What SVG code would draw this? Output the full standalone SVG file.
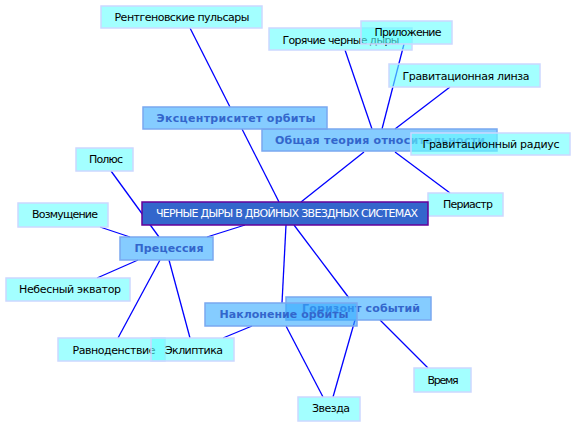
<svg xmlns="http://www.w3.org/2000/svg" width="576" height="427" viewBox="0 0 576 427">
<style>
.lt rect{fill:#66ffff;fill-opacity:0.6;stroke:#ccd8ff;stroke-width:1.5}
.bl rect{fill:#33aaff;fill-opacity:0.6;stroke:#7aa8f0;stroke-width:1.5}
.lt text{font-family:"DejaVu Sans",sans-serif;font-size:11px;fill:#000;text-anchor:middle}
.bl text{font-family:"DejaVu Sans",sans-serif;font-size:11px;font-weight:bold;fill:#3366cc;text-anchor:middle}
.ct rect{fill:#3366cc;stroke:#660099;stroke-width:1.5}
.ct text{font-family:"DejaVu Sans",sans-serif;font-size:11px;fill:#fff;text-anchor:middle}
#edges line{stroke:#0000ff;stroke-width:1.3}
</style>
<rect width="576" height="427" fill="#fff"/>
<g id="edges">
<line x1="190" y1="28" x2="230" y2="107"/>
<line x1="242" y1="129" x2="279" y2="202"/>
<line x1="345" y1="50" x2="372" y2="129"/>
<line x1="404" y1="44" x2="382" y2="129"/>
<line x1="450" y1="87" x2="395" y2="129"/>
<line x1="364" y1="152" x2="301" y2="202"/>
<line x1="395" y1="152" x2="450" y2="193"/>
<line x1="111" y1="171" x2="159" y2="237"/>
<line x1="100" y1="227" x2="130" y2="237"/>
<line x1="245" y1="225" x2="207" y2="237"/>
<line x1="97" y1="278" x2="138" y2="260"/>
<line x1="160" y1="260" x2="118" y2="338"/>
<line x1="169" y1="260" x2="190" y2="338"/>
<line x1="252" y1="326" x2="223" y2="338"/>
<line x1="286" y1="225" x2="282" y2="303"/>
<line x1="294" y1="225" x2="349" y2="298"/>
<line x1="286" y1="326" x2="323" y2="397"/>
<line x1="355" y1="320" x2="333" y2="397"/>
<line x1="380" y1="320" x2="428" y2="368"/>
</g>
<g id="n-rentgen" class="lt"><rect x="101" y="6" width="161" height="22"/><text x="182" y="21" textLength="135" lengthAdjust="spacing">Рентгеновские пульсары</text></g>
<g id="n-goryachie" class="lt"><rect x="269" y="28" width="143" height="22"/><text x="341" y="44" textLength="117" lengthAdjust="spacing">Горячие черные дыры</text></g>
<g id="n-prilozhenie" class="lt"><rect x="361" y="21" width="91" height="23"/><text x="408" y="36" textLength="67" lengthAdjust="spacing">Приложение</text></g>
<g id="n-linza" class="lt"><rect x="389" y="64" width="151" height="23"/><text x="466" y="80" textLength="127" lengthAdjust="spacing">Гравитационная линза</text></g>
<g id="n-ekscentr" class="bl"><rect x="143" y="107" width="184" height="22"/><text x="236" y="122" textLength="159" lengthAdjust="spacing">Эксцентриситет орбиты</text></g>
<g id="n-obshaya" class="bl"><rect x="262" y="129" width="235" height="22"/><text x="380" y="144" textLength="210" lengthAdjust="spacing">Общая теория относительности</text></g>
<g id="n-radius" class="lt"><rect x="411" y="133" width="159" height="22"/><text x="491" y="148" textLength="137" lengthAdjust="spacing">Гравитационный радиус</text></g>
<g id="n-periastr" class="lt"><rect x="428" y="193" width="75" height="23"/><text x="468" y="208" textLength="50" lengthAdjust="spacing">Периастр</text></g>
<g id="n-polyus" class="lt"><rect x="76" y="148" width="57" height="23"/><text x="106" y="163" textLength="34" lengthAdjust="spacing">Полюс</text></g>
<g id="n-center" class="ct"><rect x="142" y="202" width="286" height="23"/><text x="287" y="217" textLength="262" lengthAdjust="spacing">ЧЕРНЫЕ ДЫРЫ В ДВОЙНЫХ ЗВЕЗДНЫХ СИСТЕМАХ</text></g>
<g id="n-vozm" class="lt"><rect x="18" y="203" width="90" height="24"/><text x="65" y="218" textLength="66" lengthAdjust="spacing">Возмущение</text></g>
<g id="n-precessiya" class="bl"><rect x="120" y="237" width="93" height="23"/><text x="169" y="252" textLength="69" lengthAdjust="spacing">Прецессия</text></g>
<g id="n-ekvator" class="lt"><rect x="6" y="278" width="124" height="23"/><text x="70" y="293" textLength="102" lengthAdjust="spacing">Небесный экватор</text></g>
<g id="n-ravnoden" class="lt"><rect x="58" y="338" width="107" height="23"/><text x="114" y="354" textLength="83" lengthAdjust="spacing">Равноденствие</text></g>
<g id="n-ekliptika" class="lt"><rect x="151" y="338" width="83" height="23"/><text x="194" y="354" textLength="58" lengthAdjust="spacing">Эклиптика</text></g>
<g id="n-gorizont" class="bl"><rect x="286" y="297" width="145" height="23"/><text x="361" y="312" textLength="118" lengthAdjust="spacing">Горизонт событий</text></g>
<g id="n-naklon" class="bl"><rect x="205" y="303" width="152" height="23"/><text x="284" y="318" textLength="129" lengthAdjust="spacing">Наклонение орбиты</text></g>
<g id="n-vremya" class="lt"><rect x="414" y="368" width="57" height="24"/><text x="443" y="384" textLength="31" lengthAdjust="spacing">Время</text></g>
<g id="n-zvezda" class="lt"><rect x="298" y="397" width="62" height="24"/><text x="331" y="412" textLength="38" lengthAdjust="spacing">Звезда</text></g>
</svg>
